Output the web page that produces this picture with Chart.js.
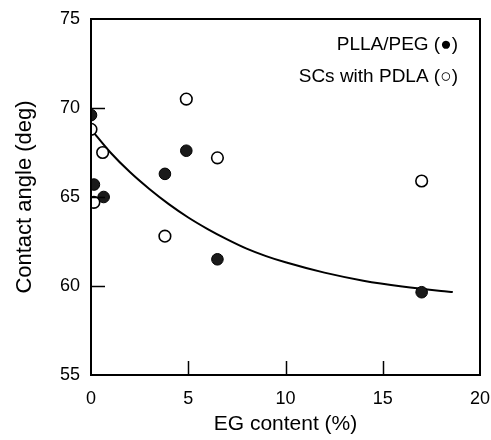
<!DOCTYPE html>
<html>
<head>
<meta charset="utf-8">
<script src="https://cdn.jsdelivr.net/npm/chart.js@4/dist/chart.umd.min.js"></script>
<style>
  html, body { margin: 0; padding: 0; background: #fff; }
  #wrap { width: 491px; height: 440px; }
</style>
</head>
<body>
<div id="wrap"><canvas id="c" width="491" height="440"></canvas></div>
<script>
// PLLA/PEG (filled circles)
const pllaX = [0, 0.15, 0.65, 3.8, 4.9, 6.5, 17.0];
const pllaY = [69.6, 65.7, 65.0, 66.3, 67.6, 61.5, 59.65];
// SCs with PDLA (open circles)
const scX = [0, 0.15, 0.6, 3.8, 4.9, 6.5, 17.0];
const scY = [68.8, 64.7, 67.5, 62.8, 70.5, 67.2, 65.9];
// fitted curve
const fitX = [0, 1, 2, 3, 4, 5, 6, 7, 8, 9, 10, 12, 14, 16, 18, 18.6];
const fitY = [68.8, 67.5, 66.4, 65.45, 64.6, 63.85, 63.2, 62.62, 62.1, 61.68, 61.33, 60.75, 60.3, 59.97, 59.72, 59.66];
// axes
const xTicks = [0, 5, 10, 15, 20];
const yTicks = [55, 60, 65, 70, 75];
const legendLabels = ['PLLA/PEG (\u25CF)', 'SCs with PDLA (\u25CB)'];

const FONT = "'Liberation Sans', Arial, sans-serif";
const toPts = (xs, ys) => xs.map((x, i) => ({x: x, y: ys[i]}));

const frame = {
  id: 'frame',
  afterDraw(chart) {
    const ctx = chart.ctx, a = chart.chartArea;
    const xs = chart.scales.x, ys = chart.scales.y;
    ctx.save();
    ctx.strokeStyle = '#000';
    ctx.lineWidth = 2;
    ctx.strokeRect(a.left, a.top, a.right - a.left, a.bottom - a.top);
    ctx.lineWidth = 1.5;
    const L = 14;
    xTicks.slice(1, -1).forEach(v => {
      const px = Math.round(xs.getPixelForValue(v)) + 0.5;
      ctx.beginPath(); ctx.moveTo(px, a.bottom); ctx.lineTo(px, a.bottom - L); ctx.stroke();
    });
    yTicks.slice(1, -1).forEach(v => {
      const py = Math.round(ys.getPixelForValue(v)) + 0.5;
      ctx.beginPath(); ctx.moveTo(a.left, py); ctx.lineTo(a.left + L, py); ctx.stroke();
    });
    // legend text
    ctx.fillStyle = '#000';
    ctx.font = '19px ' + FONT;
    ctx.textAlign = 'right';
    ctx.textBaseline = 'middle';
    ctx.fillText(legendLabels[0], a.right - 22, a.top + 26);
    ctx.fillText(legendLabels[1], a.right - 22, a.top + 58);
    ctx.restore();
  }
};

new Chart(document.getElementById('c'), {
  type: 'scatter',
  data: {
    datasets: [
      {
        label: 'SCs with PDLA',
        data: toPts(scX, scY),
        pointRadius: 5.8,
        pointBackgroundColor: '#fff',
        pointBorderColor: '#000',
        pointBorderWidth: 1.6,
        order: 1
      },
      {
        label: 'PLLA/PEG',
        data: toPts(pllaX, pllaY),
        pointRadius: 5.8,
        pointBackgroundColor: '#1a1a1a',
        pointBorderColor: '#000',
        pointBorderWidth: 1,
        order: 2
      },
      {
        label: 'fit',
        type: 'line',
        data: toPts(fitX, fitY),
        borderColor: '#000',
        borderWidth: 2,
        pointRadius: 0,
        cubicInterpolationMode: 'monotone',
        fill: false,
        order: 3
      }
    ]
  },
  options: {
    responsive: false,
    animation: false,
    devicePixelRatio: 1,
    layout: { padding: { top: 19, right: 11, left: 0, bottom: 3 } },
    plugins: { legend: { display: false }, tooltip: { enabled: false } },
    scales: {
      x: {
        type: 'linear', min: 0, max: 20,
        afterBuildTicks: s => { s.ticks = xTicks.map(v => ({value: v})); },
        afterFit: s => { s.height = 62; s.paddingLeft = 0; s.paddingRight = 0; },
        grid: { display: false, drawTicks: false },
        border: { display: false },
        ticks: { color: '#000', font: { family: FONT, size: 18 }, padding: 13, maxRotation: 0 },
        title: { display: true, text: 'EG content (%)', color: '#000', font: { family: FONT, size: 21 }, padding: { top: 2, bottom: 0 } }
      },
      y: {
        type: 'linear', min: 55, max: 75,
        afterBuildTicks: s => { s.ticks = yTicks.map(v => ({value: v})); },
        afterFit: s => { s.width = 91; s.paddingTop = 0; s.paddingBottom = 0; },
        grid: { display: false, drawTicks: false },
        border: { display: false },
        ticks: { color: '#000', font: { family: FONT, size: 18 }, padding: 11 },
        title: { display: true, text: 'Contact angle (deg)', color: '#000', font: { family: FONT, size: 22 }, padding: { top: 12, bottom: 0 } }
      }
    }
  },
  plugins: [frame]
});
</script>
</body>
</html>
